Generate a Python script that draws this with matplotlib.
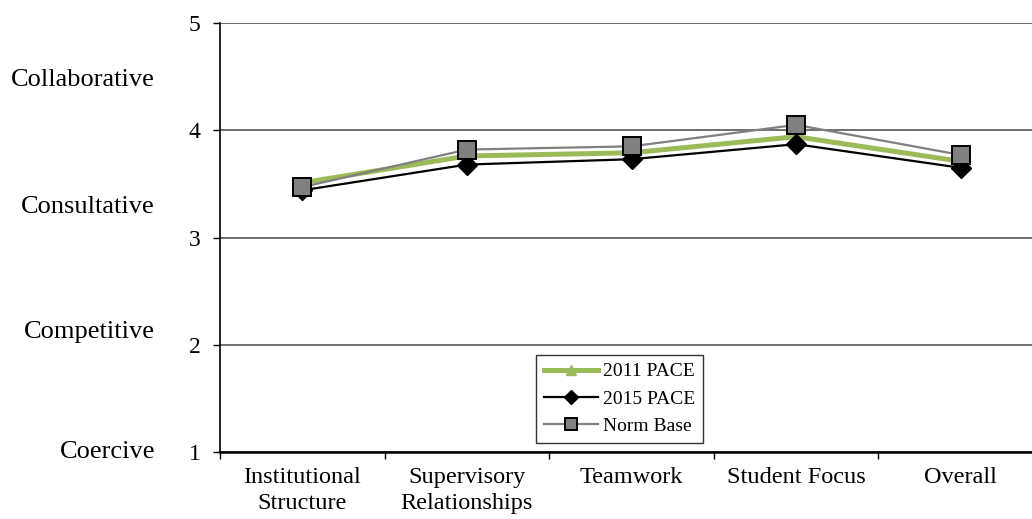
import numpy as np
import matplotlib.pyplot as plt

categories = ['Institutional\nStructure', 'Supervisory\nRelationships', 'Teamwork',
              'Student Focus', 'Overall']
pace_2011 = [3.51, 3.76, 3.79, 3.94, 3.71]
pace_2015 = [3.44, 3.68, 3.73, 3.87, 3.65]
norm_base = [3.47, 3.82, 3.85, 4.05, 3.77]

climate_labels = ['Collaborative', 'Consultative', 'Competitive', 'Coercive']
climate_pos = [4.47, 3.28, 2.12, 1.0]

plt.rcParams['font.family'] = ['Liberation Serif', 'DejaVu Serif']

fig = plt.figure(figsize=(10.32, 5.19), dpi=100)
ax = fig.add_axes([220 / 1032, 67 / 519, 823 / 1032, 429 / 519])

x = np.arange(len(categories))

ax.plot(x, pace_2011, color='#9BBB59', lw=3.6, marker='^', ms=9,
        mfc='#9BBB59', mec='#9BBB59', label='2011 PACE', zorder=3)
ax.plot(x, pace_2015, color='black', lw=1.6, marker='D', ms=10,
        mfc='black', mec='black', label='2015 PACE', zorder=4)
ax.plot(x, norm_base, color='#808080', lw=1.6, marker='s', ms=12.5,
        mfc='#808080', mec='black', mew=1.4, label='Norm Base', zorder=5)

ax.set_xlim(-0.5, len(categories) - 0.5)
ax.set_ylim(1, 5)
ax.set_yticks([1, 2, 3, 4, 5])
ax.tick_params(axis='y', labelsize=17, length=5, width=1, pad=9, direction='out')

# category labels in the middle, tick marks between categories
ax.set_xticks(x)
ax.set_xticklabels(categories, fontsize=17.5, linespacing=1.3)
ax.tick_params(axis='x', which='major', length=0, pad=11)
ax.set_xticks(np.arange(-0.5, len(categories)), minor=True)
ax.tick_params(axis='x', which='minor', length=5, width=1, direction='out')

ax.grid(axis='y', color='#555555', lw=1.2)
ax.set_axisbelow(True)
for side in ['top', 'right']:
    ax.spines[side].set_visible(False)
ax.spines['left'].set_linewidth(1.2)
ax.spines['bottom'].set_linewidth(1.8)

for lab, pos in zip(climate_labels, climate_pos):
    ax.text(-65 / 823, pos, lab, transform=ax.get_yaxis_transform(),
            ha='right', va='center', fontsize=19)

leg = ax.legend(loc='upper left', bbox_to_anchor=(536 / 1032, 1 - 355 / 519),
                bbox_transform=fig.transFigure, fontsize=14, frameon=True,
                fancybox=False, edgecolor='black', handlelength=2.8,
                handletextpad=0.25, borderpad=0.4, labelspacing=0.5,
                borderaxespad=0)
leg.get_frame().set_linewidth(1.0)
# smaller markers in the legend keys
for h, ms in zip(leg.legend_handles, [7, 7, 8]):
    h.set_markersize(ms)

fig.savefig('out.png', dpi=100)
